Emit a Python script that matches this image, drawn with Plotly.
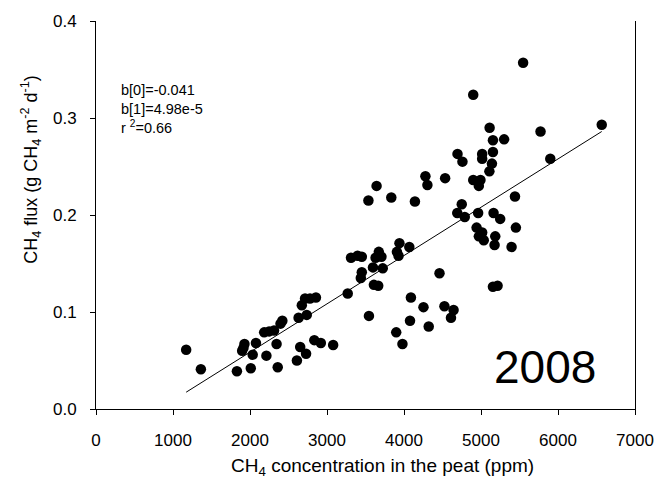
import plotly.graph_objects as go

# CH4 concentration in the peat (ppm)
conc = [1171, 1362, 1830, 2010, 1928, 1898, 1915, 2035, 2077, 2213, 2345, 2360,
        2184, 2248, 2312, 2396, 2420,
        2631, 2737, 2673, 2715, 2779, 2856, 2609, 2728, 2652, 2835, 2920, 3080,
        3269, 3439, 3452, 3312, 3397, 3452,
        3545, 3597, 3609, 3665, 3631, 3673, 3707, 3724, 3908, 3929, 3941, 4069,
        3538, 3644, 3835, 4142, 4090, 4078, 3899, 3980, 4253, 4321,
        4278, 4304, 4534, 4695, 4759, 4461, 4525, 4644, 4610, 4750, 4692, 4789,
        4899, 4993, 4972, 4899, 4963, 4943, 5015, 4972, 5036,
        5547, 6568, 5773, 5112, 5155, 5300, 5015, 5015, 5155, 5142, 5109, 5900,
        5441, 5163, 5249, 5453, 5185, 5176, 5397, 5155, 5215]
# CH4 flux (g CH4 m-2 d-1)
flux = [0.061, 0.041, 0.039, 0.042, 0.067, 0.060, 0.063, 0.056, 0.068, 0.055, 0.067, 0.043,
        0.079, 0.080, 0.081, 0.088, 0.091,
        0.094, 0.097, 0.107, 0.114, 0.114, 0.115, 0.050, 0.057, 0.064, 0.071, 0.068, 0.066,
        0.119, 0.135, 0.141, 0.156, 0.158, 0.157,
        0.096, 0.146, 0.128, 0.127, 0.156, 0.162, 0.157, 0.145, 0.162, 0.158, 0.171, 0.167,
        0.215, 0.230, 0.218, 0.214, 0.115, 0.091, 0.079, 0.067, 0.105, 0.085,
        0.240, 0.231, 0.238, 0.263, 0.255, 0.140, 0.106, 0.102, 0.094, 0.211, 0.202, 0.198,
        0.236, 0.236, 0.230, 0.324, 0.202, 0.187, 0.182, 0.178, 0.174,
        0.357, 0.293, 0.286, 0.290, 0.277, 0.278, 0.263, 0.258, 0.265, 0.253, 0.245, 0.258,
        0.219, 0.202, 0.196, 0.187, 0.178, 0.169, 0.167, 0.126, 0.127]

# regression coefficients
b0 = -0.041
b1 = 4.98e-5
r2 = 0.66
year_label = "2008"

x_ticks = [0, 1000, 2000, 3000, 4000, 5000, 6000, 7000]
y_ticks = [0.0, 0.1, 0.2, 0.3, 0.4]

W, H = 666, 483
ML, MR, MT, MB = 96, 22, 15, 74
PW, PH = W - ML - MR, H - MT - MB


def px_x(px):
    return (px - ML) / PW


def px_y(py):
    return (H - MB - py) / PH


FONT = "Liberation Sans, Arial, sans-serif"

fit_x = [min(conc), max(conc)]
fit_y = [b0 + b1 * v for v in fit_x]

fig = go.Figure()
fig.add_trace(go.Scatter(x=conc, y=flux, mode="markers",
                         marker=dict(color="black", size=10.5, line=dict(width=0)),
                         showlegend=False))
fig.add_trace(go.Scatter(x=fit_x, y=fit_y, mode="lines",
                         line=dict(color="black", width=1), showlegend=False))

axis_common = dict(showgrid=False, zeroline=False, showline=True, linecolor="black",
                   linewidth=1, ticks="outside", ticklen=5, tickcolor="black",
                   tickwidth=1, tickfont=dict(family=FONT, size=17, color="black"))

fig.update_xaxes(range=[0, 7000], tickvals=x_ticks,
                 ticktext=[str(v) for v in x_ticks], ticklabelstandoff=11, **axis_common)
fig.update_yaxes(range=[0, 0.4], tickvals=y_ticks,
                 ticktext=["%.1f" % v for v in y_ticks], mirror=True,
                 ticklabelstandoff=10, **axis_common)

annots = [
    dict(text="CH<sub>4</sub> concentration in the peat (ppm)", x=px_x(387), y=px_y(468),
         xanchor="center", yanchor="middle", font=dict(family=FONT, size=19, color="black")),
    dict(text="CH<sub>4</sub> flux (g CH<sub>4</sub> m<sup>-2</sup> d<sup>-1</sup>)",
         x=px_x(30), y=px_y(166), textangle=-90,
         xanchor="center", yanchor="middle", font=dict(family=FONT, size=18, color="black")),
    dict(text="b[0]=%s<br>b[1]=%s<br>r <sup>2</sup>=%s" % (b0, "4.98e-5", r2),
         x=px_x(119), y=px_y(75), xanchor="left", yanchor="top", align="left",
         font=dict(family=FONT, size=14.5, color="black")),
    dict(text=year_label, x=px_x(606), y=px_y(366), xanchor="right", yanchor="middle",
         font=dict(family=FONT, size=46, color="black")),
]
for a in annots:
    a.update(xref="paper", yref="paper", showarrow=False)

fig.update_layout(width=W, height=H, margin=dict(l=ML, r=MR, t=MT, b=MB),
                  plot_bgcolor="white", paper_bgcolor="white", annotations=annots,
                  showlegend=False)

fig.write_html("out.html")
